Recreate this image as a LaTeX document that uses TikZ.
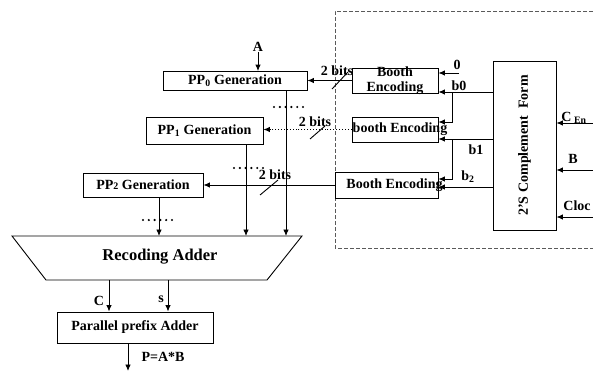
\documentclass[tikz,border=0pt]{standalone}
\usepackage{fontspec}
\setmainfont{Liberation Serif}
\usepackage{tikz}
\usetikzlibrary{arrows.meta,calc}
\definecolor{dashcol}{HTML}{5A5A5A}
\newcommand{\ppdots}[2]{\foreach \k in {0,...,5} \fill (#1+5.8*\k,#2) circle (1.2);}

\begin{document}
\begin{tikzpicture}[x=1pt,y=-1pt,line width=0.9pt,
  font=\fontsize{14}{16}\selectfont\bfseries,
  blk/.style={draw,inner sep=0pt},
  arr/.style={-{Latex[length=6.5pt,width=5.5pt]}},
  lbl/.style={inner sep=0pt},
]
\useasboundingbox (0,0) rectangle (593,372);

% encoder region
\draw[dashcol,dash pattern=on 4pt off 2pt] (593,11) -- (335,11) -- (335,248) -- (593,248);

\node[blk,minimum width=144,minimum height=19] (pp0) at (235,81) {PP\textsubscript{0} Generation};
\node[blk,minimum width=117,minimum height=27] (pp1) at (204.5,130.5) {PP\textsubscript{1} Generation};
\node[blk,minimum width=120,minimum height=24] (pp2) at (143,185) {PP{\fontsize{10}{10}\selectfont 2} Generation};

\node[blk,minimum width=86,minimum height=25,
  label={[align=center,font=\fontsize{14}{15.5}\selectfont\bfseries]center:Booth\\Encoding}] (be0) at (395,80.5) {};
\node[blk,minimum width=86,minimum height=25,
  label={[xshift=5pt]center:booth Encoding}] (be1) at (395,129.5) {};
\node[blk,minimum width=103,minimum height=26,
  label={[xshift=8pt]center:Booth Encoding}] (be2) at (386.5,185) {};

\node[blk,minimum width=63,minimum height=169] (cmp) at (524.5,145.5) {};
\node[lbl,rotate=90] (cmptxt) at (cmp.center) {2'S Complement\ \ Form};

\node[blk,minimum width=156,minimum height=31] (ppa) at (135,327.5) {Parallel prefix Adder};

% recoding adder
\draw (12,236) -- (302,236) -- (267,280) -- (46,280) -- cycle;
\node[lbl,font=\fontsize{16.5}{18}\selectfont\bfseries] (rca) at (160,257) {Recoding Adder};
\coordinate (adtop) at (0,236);
\coordinate (cout) at (109,280);
\coordinate (sout) at (168,280);
\coordinate (pout) at (128,371);

% labels
\node[lbl] (lblA) at (258,47) {A};
\node[lbl] (lbl0) at (457,65) {0};
\node[lbl] (lblb0) at (459,86) {b0};
\node[lbl] (lblb1) at (476,150) {b1};
\node[lbl] (lblb2) at (468,177) {b\textsubscript{2}};
\node[lbl] (lblcen) at (574,118) {C\textsubscript{ En}};
\node[lbl] (lblB) at (573,159) {B};
\node[lbl,anchor=west] (lblclk) at (563,206) {Cloc};
\node[lbl] (lblC) at (99,301) {C};
\node[lbl] (lbls) at (161,299) {s};
\node[lbl] (lblP) at (163,357) {P=A*B};
\node[lbl] (bits0) at (337,71) {2 bits};
\node[lbl] (bits1) at (315,122) {2 bits};
\node[lbl] (bits2) at (275,175) {2 bits};

% booth inputs
\coordinate (in0) at (459,73);
\coordinate (tap0) at (452,92);
\coordinate (in1) at (452,122);
\coordinate (tap1) at (452,139);
\coordinate (in2) at (452,179);
\coordinate (tap2) at (452,187);
\draw[arr] (in0) -- (in0 -| be0.east);
\draw[arr] (cmp.west |- tap0) -- (tap0 -| be0.east);
\draw[arr] (tap0) -- (in1) -- (in1 -| be1.east);
\draw[arr] (cmp.west |- tap1) -- (tap1 -| be1.east);
\draw[arr] (tap1) -- (in2) -- (in2 -| be2.east);
\draw[arr] (cmp.west |- tap2) -- (tap2 -| be2.east);

% external inputs
\coordinate (cen) at (593,123);
\coordinate (bin) at (593,170);
\coordinate (clk) at (593,217);
\draw[arr] (cen) -- (cen -| cmp.east);
\draw[arr] (bin) -- (bin -| cmp.east);
\draw[arr] (clk) -- (clk -| cmp.east);

% partial products
\draw[arr] (lblA) -- (lblA |- pp0.north);
\draw[arr] (be0.west) -- (be0.west -| pp0.east);
\draw[arr,dotted] (be1.west) -- (be1.west -| pp1.east);
\draw[arr] (be2.west) -- (be2.west -| pp2.east);
\draw (332,89) -- (348,72);
\draw (310,139) -- (325,126);
\draw (260,195) -- (278,180);
\draw[arr] (pp0.south -| 286,0) -- (adtop -| 286,0);
\draw[arr] (pp1.south -| 246,0) -- (adtop -| 246,0);
\draw[arr] (pp2.south -| 159,0) -- (adtop -| 159,0);
\ppdots{274}{107}
\ppdots{234}{168}
\ppdots{143}{220}

% final adder
\draw[arr] (cout) -- (cout |- ppa.north);
\draw[arr] (sout) -- (sout |- ppa.north);
\draw[arr] (ppa.south -| pout) -- (pout);
\end{tikzpicture}
\end{document}
